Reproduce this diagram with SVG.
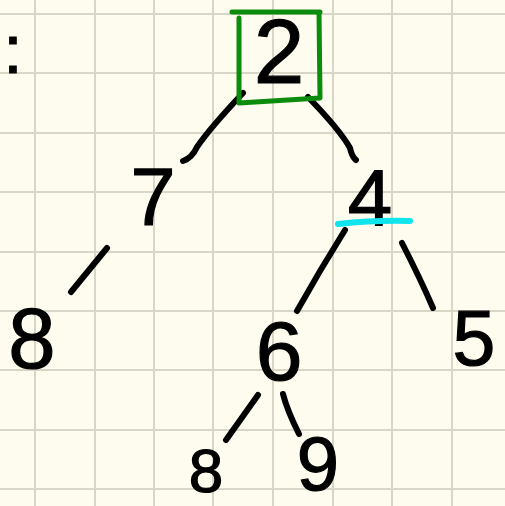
<svg xmlns="http://www.w3.org/2000/svg" width="505" height="506" viewBox="0 0 505 506">
<defs>
<style>
.grid{stroke:#d9d6c8;stroke-width:2}
.edge{fill:none;stroke:#000;stroke-width:6;stroke-linecap:round;stroke-linejoin:round}
.num{font-family:"Liberation Sans",Arial,sans-serif;fill:#000;text-anchor:middle;stroke:#000;stroke-width:1.2}
</style>
</defs>
<rect width="505" height="506" fill="#fdfcef"/>
<g id="grid">
<path class="grid" d="M35 0V506M95 0V506M154 0V506M213 0V506M273 0V506M333 0V506M392 0V506M452 0V506M0 14H505M0 73H505M0 133H505M0 192H505M0 252H505M0 311H505M0 370H505M0 430H505M0 489H505"/>
</g>
<g id="connectors">
<path class="edge" d="M243 93 Q210 128 197 147 Q192 158 183 161"/>
<path class="edge" d="M308 97 Q340 130 350 148 Q352 157 356 160"/>
<path class="edge" d="M107 248 L71 292"/>
<path class="edge" d="M345 230 Q320 270 297 311"/>
<path class="edge" d="M402 243 Q420 278 433 308"/>
<path class="edge" d="M258 395 L226 440"/>
<path class="edge" d="M283 394 Q287 410 299 434"/>
</g>
<g id="colon"><text class="num" x="13" y="73" font-size="68">:</text></g>
<g id="n2">
<path d="M232 12 L320 12 M319 12 L320 98 L239 103 M239 18 L239 102" fill="none" stroke="#0c8c0c" stroke-width="5" stroke-linecap="round" stroke-linejoin="round"/>
<text class="num" x="279" y="83" font-size="91">2</text>
</g>
<g id="n7"><text class="num" x="153" y="225" font-size="81">7</text></g>
<g id="n4">
<text class="num" x="370" y="225" font-size="80">4</text>
<path d="M338 224 Q375 220 410 221" fill="none" stroke="#10e4ec" stroke-width="6" stroke-linecap="round"/>
</g>
<g id="n8a"><text class="num" x="32" y="368" font-size="85">8</text></g>
<g id="n6"><text class="num" x="279" y="380" font-size="84">6</text></g>
<g id="n5"><text class="num" x="474" y="365" font-size="77">5</text></g>
<g id="n8b"><text class="num" x="206" y="492" font-size="62">8</text></g>
<g id="n9"><text class="num" x="318" y="490" font-size="76">9</text></g>
</svg>
